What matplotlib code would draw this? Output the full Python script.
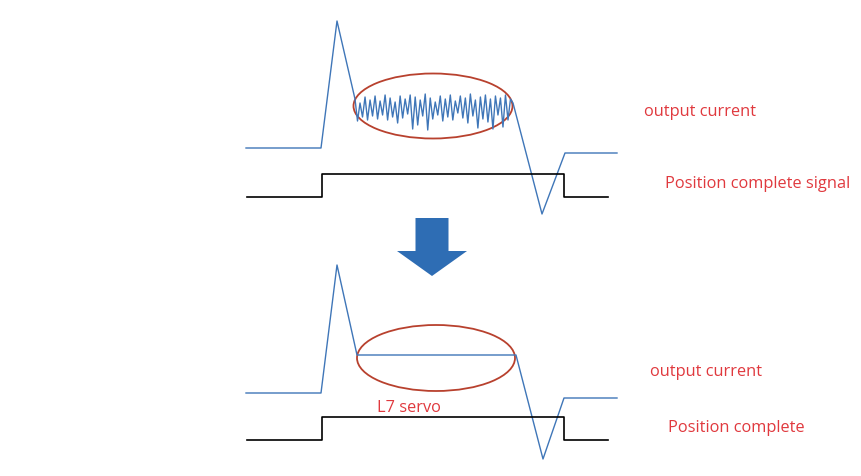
import numpy as np
import matplotlib.pyplot as plt
from matplotlib.patches import Ellipse

# diagram coordinates (pixel-like units, y grows downward)
# top panel: output current before tuning
top_cur_x = [246, 321, 337, 355]
top_cur_y = [149, 149, 22, 100]
noise_y = [100, 122, 104, 118, 98, 121, 101, 117, 97, 120,
           102, 116, 96, 121, 99, 118, 103, 124, 97, 119,
           100, 115, 96, 130, 98, 126, 101, 117, 95, 131,
           99, 120, 103, 116, 97, 122, 100, 118, 96, 121,
           102, 114, 97, 119, 99, 124, 95, 117, 101, 129,
           98, 120, 96, 123, 100, 130, 97, 116, 99, 128,
           96, 121, 100, 104]
tail_x = [542, 565, 617]
top_tail_y = [215, 154, 154]

# position complete signal (step)
sig_x = [247, 322, 322, 564, 564, 608]
top_sig_y = [198, 198, 175, 175, 198, 198]

# bottom panel: L7 servo
bot_cur_x = [246, 321, 337, 357, 516, 543, 564, 617]
bot_cur_y = [394, 394, 266, 356, 356, 460, 399, 399]
bot_sig_y = [441, 441, 418, 418, 441, 441]

blue = '#3f76b8'
red = '#e0393e'
ring = '#b8412e'

fig = plt.figure(figsize=(8.62, 4.77), dpi=100)
ax = fig.add_axes([0, 0, 1, 1])
ax.set_xlim(0, 862)
ax.set_ylim(477, 0)
ax.axis('off')

noise_x = np.linspace(355, 513, len(noise_y))
xs = top_cur_x + list(noise_x) + tail_x
ys = top_cur_y + noise_y + top_tail_y
ax.plot(xs, ys, color=blue, lw=1.0)
ax.plot(sig_x, top_sig_y, color='black', lw=1.2)
ax.add_patch(Ellipse((433, 107), 159, 65, fill=False, ec=ring, lw=1.3))

ax.plot(bot_cur_x, bot_cur_y, color=blue, lw=1.0)
ax.plot(sig_x, bot_sig_y, color='black', lw=1.2)
ax.add_patch(Ellipse((436, 359), 158, 66, fill=False, ec=ring, lw=1.3))

ax.arrow(432, 219, 0, 58, width=33, head_width=70, head_length=25,
         length_includes_head=True, color='#2e6db4', lw=0)

font = dict(family=['Open Sans', 'DejaVu Sans'], fontsize=11.8, color=red, va='center')
ax.text(644, 112, 'output current', **font)
ax.text(665, 184, 'Position complete signal', **font)
ax.text(650, 372, 'output current', **font)
ax.text(668, 428, 'Position complete', **font)
ax.text(377, 408, 'L7 servo', **font)

fig.savefig('out.png', dpi=100)
